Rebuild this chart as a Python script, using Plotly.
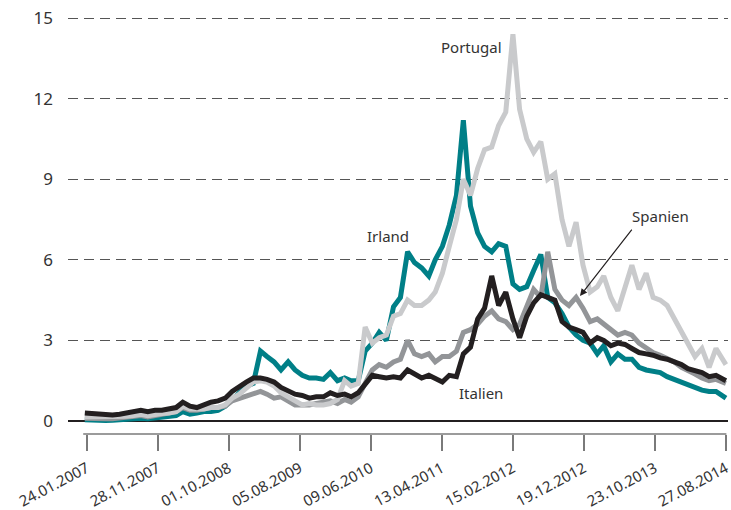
import plotly.graph_objects as go
import pandas as pd

# monthly observation dates (mid-month), last point 27.08.2014
dates = list(pd.date_range("2007-01-01", "2014-07-01", freq="MS") + pd.Timedelta(days=14))
dates = [d.strftime("%Y-%m-%d") for d in dates] + ["2014-08-27"]

italien = [0.3, 0.28, 0.25, 0.22, 0.22, 0.25, 0.3, 0.35, 0.4, 0.35, 0.4, 0.4,
           0.45, 0.5, 0.7, 0.55, 0.5, 0.6, 0.7, 0.75, 0.85, 1.1, 1.3, 1.45,
           1.6, 1.6, 1.55, 1.45, 1.25, 1.1, 1.0, 0.95, 0.85, 0.9, 0.9, 1.05,
           0.95, 1.0, 0.9, 1.05, 1.4, 1.7, 1.65, 1.6, 1.65, 1.6, 1.9, 1.75,
           1.6, 1.7, 1.6, 1.45, 1.7, 1.65, 2.5, 2.75, 3.8, 4.2, 5.4, 4.3,
           4.8, 3.8, 3.1, 3.9, 4.4, 4.7, 4.6, 4.5, 3.7, 3.5, 3.4, 3.3,
           2.9, 3.1, 3.0, 2.8, 2.9, 2.85, 2.7, 2.55, 2.5, 2.45, 2.35, 2.3,
           2.2, 2.1, 1.95, 1.85, 1.8, 1.65, 1.7, 1.5]

irland = [0.05, 0.03, 0.02, 0.02, 0.03, 0.05, 0.05, 0.08, 0.1, 0.08, 0.1, 0.12,
          0.15, 0.2, 0.35, 0.25, 0.3, 0.35, 0.35, 0.4, 0.55, 0.8, 1.0, 1.3,
          1.4, 2.6, 2.4, 2.2, 1.9, 2.2, 1.9, 1.7, 1.6, 1.6, 1.55, 1.8,
          1.5, 1.6, 1.5, 1.5, 2.6, 2.9, 3.3, 3.0, 4.25, 4.6, 6.3, 5.9,
          5.7, 5.4, 6.0, 6.5, 7.3, 8.4, 11.2, 8.0, 7.0, 6.5, 6.3, 6.6,
          6.5, 5.1, 4.9, 5.0, 5.6, 6.2, 4.6, 4.4, 4.0, 3.5, 3.2, 3.0,
          2.9, 2.5, 2.8, 2.2, 2.5, 2.3, 2.3, 2.0, 1.9, 1.85, 1.8, 1.65,
          1.55, 1.45, 1.35, 1.25, 1.15, 1.1, 1.1, 0.85]

portugal = [0.15, 0.15, 0.15, 0.15, 0.15, 0.15, 0.18, 0.2, 0.25, 0.2, 0.25, 0.28,
            0.3, 0.35, 0.55, 0.45, 0.45, 0.45, 0.5, 0.5, 0.6, 0.85, 1.0, 1.2,
            1.45, 1.5, 1.45, 1.3, 1.05, 0.9, 0.75, 0.6, 0.65, 0.6, 0.6, 0.65,
            0.8, 1.5, 1.3, 1.4, 3.5, 2.9, 3.1, 3.2, 3.9, 4.0, 4.5, 4.3,
            4.3, 4.5, 4.8, 5.5, 6.5, 7.5, 9.0, 8.4, 9.4, 10.1, 10.2, 11.0,
            11.5, 14.4, 11.6, 10.5, 10.0, 10.4, 9.0, 9.2, 7.5, 6.5, 7.4, 5.8,
            4.8, 5.0, 5.4, 4.6, 4.1, 5.0, 5.8, 4.9, 5.5, 4.6, 4.5, 4.3,
            3.8, 3.3, 2.9, 2.4, 2.7, 2.0, 2.7, 2.1]

spanien = [0.1, 0.08, 0.08, 0.08, 0.08, 0.1, 0.12, 0.15, 0.2, 0.15, 0.2, 0.22,
           0.3, 0.35, 0.5, 0.4, 0.4, 0.45, 0.5, 0.5, 0.55, 0.75, 0.85, 0.9,
           1.0, 1.1, 1.0, 0.85, 0.9, 0.75, 0.6, 0.6, 0.6, 0.65, 0.7, 0.75,
           0.65, 0.8, 0.7, 0.9, 1.4, 1.9, 2.1, 2.0, 2.2, 2.3, 3.0, 2.5,
           2.4, 2.5, 2.2, 2.4, 2.4, 2.6, 3.3, 3.4, 3.6, 3.9, 4.1, 3.8,
           3.7, 3.4, 3.6, 4.3, 4.9, 4.6, 6.3, 4.9, 4.5, 4.3, 4.6, 4.2,
           3.7, 3.8, 3.6, 3.4, 3.2, 3.3, 3.2, 2.9, 2.7, 2.55, 2.45, 2.35,
           2.2, 2.0, 1.9, 1.75, 1.6, 1.5, 1.55, 1.4]

tick_dates = ["2007-01-24", "2007-11-28", "2008-10-01", "2009-08-05", "2010-06-09",
              "2011-04-13", "2012-02-15", "2012-12-19", "2013-10-23", "2014-08-27"]
tick_labels = ["24.01.2007", "28.11.2007", "01.10.2008", "05.08.2009", "09.06.2010",
               "13.04.2011", "15.02.2012", "19.12.2012", "23.10.2013", "27.08.2014"]
y_ticks = [0, 3, 6, 9, 12, 15]

FONT = "Noto Sans, DejaVu Sans, sans-serif"
TXT = "#333333"

fig = go.Figure()
series = [("Irland", irland, "#007F87"),
          ("Spanien", spanien, "#939598"),
          ("Portugal", portugal, "#C9CACC"),
          ("Italien", italien, "#231F20")]
for name, vals, col in series:
    fig.add_trace(go.Scatter(x=dates, y=vals, mode="lines", name=name,
                             line=dict(color=col, width=5, shape="linear"),
                             showlegend=False))

# x axis baseline (starts just before first tick)
fig.add_shape(type="line", xref="x", yref="paper", x0="2007-01-08", x1="2014-08-29",
              y0=0, y1=0, line=dict(color="#7a7a7a", width=1.5))

anns = [
    dict(x="2011-08-21", y=13.92, text="Portugal"),
    dict(x="2010-08-22", y=6.89, text="Irland"),
    dict(x="2011-09-29", y=1.04, text="Italien"),
    dict(x="2013-11-18", y=7.63, text="Spanien"),
]
for a in anns:
    fig.add_annotation(x=a["x"], y=a["y"], text=a["text"], showarrow=False,
                       font=dict(family=FONT, size=15, color=TXT))
fig.add_annotation(x="2012-12-02", y=4.65, text="", showarrow=True,
                   ax=53, ay=-68, arrowhead=2, arrowsize=1.2, arrowwidth=1.2,
                   arrowcolor="#231F20")

fig.update_layout(
    width=731, height=510,
    margin=dict(l=68, r=3, t=10, b=76, autoexpand=False),
    plot_bgcolor="white", paper_bgcolor="white",
    font=dict(family=FONT, color=TXT),
    xaxis=dict(range=["2006-11-03", "2014-09-05"], type="date",
               tickvals=tick_dates, ticktext=tick_labels, tickangle=-28,
               ticks="outside", ticklen=16, tickcolor="#7a7a7a", tickwidth=1.5,
               showgrid=False, showline=False, zeroline=False, automargin=False,
               ticklabeloverflow="allow", ticklabelstandoff=3,
               tickfont=dict(size=15, color=TXT, family=FONT)),
    yaxis=dict(range=[-0.484, 15.3], tickvals=y_ticks, showline=False,
               showgrid=True, gridcolor="#555555", gridwidth=1, griddash="10px,6px",
               zeroline=True, zerolinecolor="#231F20", zerolinewidth=2,
               ticks="", ticklabelstandoff=14, automargin=False,
               tickfont=dict(size=17, color=TXT, family=FONT)),
)

fig.write_html("out.html", config={"displayModeBar": False},
               post_script="document.body.style.margin='0';document.body.style.padding='0';")
